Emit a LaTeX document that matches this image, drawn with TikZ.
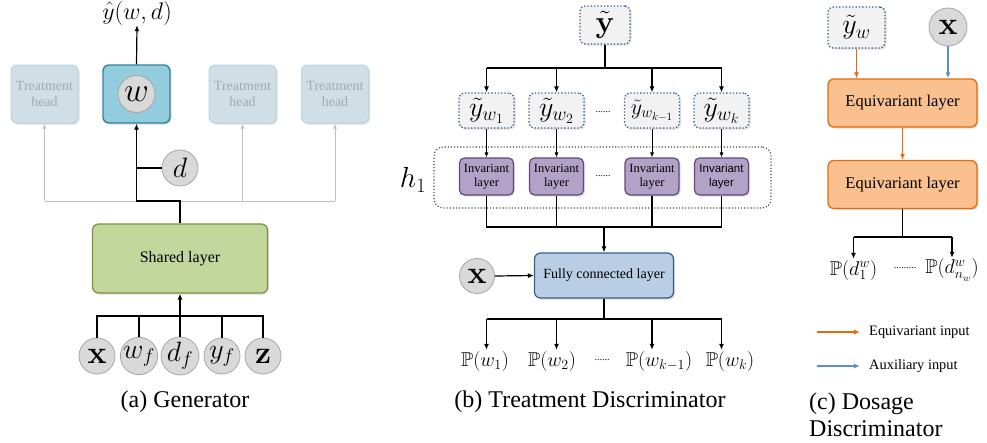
\RequirePackage{fix-cm}
\documentclass[tikz,border=0pt]{standalone}
\usepackage{amsmath,amssymb}
\usepackage[no-math]{fontspec}
\setmainfont{Liberation Serif}
\newfontfamily\sansf{Liberation Sans}
\usetikzlibrary{arrows.meta,shadows}
\definecolor{headfill}{HTML}{CFDFE5}
\definecolor{headdraw}{HTML}{B9D5DF}
\definecolor{headtext}{HTML}{A3ABAE}
\definecolor{wfill}{HTML}{93CDDD}
\definecolor{wdraw}{HTML}{31849B}
\definecolor{cfill}{HTML}{D9D9D9}
\definecolor{cdraw}{HTML}{A6A6A6}
\definecolor{shfill}{HTML}{C3D69B}
\definecolor{shdraw}{HTML}{77933C}
\definecolor{yfill}{HTML}{F2F2F2}
\definecolor{ydraw}{HTML}{2E5C8A}
\definecolor{invfill}{HTML}{B3A2C7}
\definecolor{invdraw}{HTML}{604A7B}
\definecolor{fcfill}{HTML}{B9CDE5}
\definecolor{fcdraw}{HTML}{385D8A}
\definecolor{eqfill}{HTML}{FAC090}
\definecolor{eqdraw}{HTML}{E46C0A}
\definecolor{auxblue}{HTML}{5B8FCB}
\definecolor{garrow}{HTML}{BFBFBF}
\tikzset{
  base/.style={rounded corners=6pt, align=center, inner sep=0pt,
    drop shadow={opacity=0.25, shadow xshift=1.5pt, shadow yshift=-1.5pt}},
  thead/.style={base, draw=headdraw, fill=headfill, text=headtext, line width=1pt,
    minimum width=67pt, minimum height=58pt, font=\fontsize{14}{16}\selectfont},
  wbox/.style={base, draw=wdraw, fill=wfill, line width=1.4pt, minimum width=67pt, minimum height=58pt},
  sharedbox/.style={base, draw=shdraw, fill=shfill, line width=1.2pt,
    minimum width=175pt, minimum height=69pt, font=\fontsize{16}{18}\selectfont},
  circ/.style={circle, draw=cdraw, fill=cfill, line width=0.8pt, inner sep=0pt,
    minimum size=36pt, font=\fontsize{28}{30}\selectfont},
  ybox/.style={base, rounded corners=5pt, draw=ydraw, fill=yfill, dotted, line width=1.3pt},
  invbox/.style={base, rounded corners=5pt, draw=invdraw, fill=invfill, line width=1.2pt,
    minimum width=54pt, minimum height=37pt, font=\fontsize{12.5}{14}\selectfont},
  fcbox/.style={base, draw=fcdraw, fill=fcfill, line width=1.2pt,
    minimum width=139pt, minimum height=45pt, font=\fontsize{14}{16}\selectfont},
  eqbox/.style={base, draw=eqdraw, fill=eqfill, line width=1.3pt,
    minimum width=149pt, minimum height=48pt, font=\fontsize{16.5}{18}\selectfont},
  hgroup/.style={draw=black!75, dotted, line width=1.1pt, rounded corners=9pt,
    minimum width=337pt, minimum height=61pt},
  arr/.style={-{Latex[length=6pt,width=5pt]}, line width=1.2pt},
  thinarr/.style={-{Latex[length=5pt,width=4pt]}, line width=0.7pt},
  thickarr/.style={-{Latex[length=6pt,width=5pt]}, line width=1.6pt},
  garr/.style={-{Latex[length=5pt,width=4pt]}, draw=garrow, line width=1pt},
  oarr/.style={-{Latex[length=6pt,width=5pt]}, draw=eqdraw, line width=1.2pt},
  barr/.style={-{Latex[length=6pt,width=5pt]}, draw=auxblue, line width=1.2pt},
  plab/.style={inner sep=1pt, font=\fontsize{20}{22}\selectfont},
  dots/.style={font=\fontsize{10}{10}\selectfont},
  caption/.style={font=\fontsize{24}{27}\selectfont},
  legtext/.style={anchor=west, font=\fontsize{14.4}{16}\selectfont, inner sep=0pt}
}
\begin{document}
\begin{tikzpicture}[x=1pt,y=-1pt]
\useasboundingbox (0,0) rectangle (987,442);

% ---------- (a) Generator ----------
\node[thead] (ha) at (44.5,94) {Treatment\\head};
\node[wbox]  (hw) at (136.5,94) {};
\node[circ, minimum size=37pt, font=\fontsize{34}{36}\selectfont] (wc) at (hw.center) {$w$};
\node[thead] (hc) at (242.5,94) {Treatment\\head};
\node[thead] (hd) at (335,94) {Treatment\\head};
\node[font=\fontsize{24}{26}\selectfont, inner sep=0pt] (yhat) at (137,13) {$\hat{y}(w,d)$};
\draw[arr] (hw.north) -- (yhat.south);

\node[sharedbox] (sh) at (180,258.5) {Shared layer};
\coordinate (ja) at (180,201);
\draw[garrow, line width=1pt] (ha.south |- ja) -- (hd.south |- ja);
\draw[garr] (ha.south |- ja) -- (ha.south);
\draw[garr] (hc.south |- ja) -- (hc.south);
\draw[garr] (hd.south |- ja) -- (hd.south);
\node[circ] (dc) at (180,168) {$d$};
\draw[thickarr] (sh.north) -- (ja) -- (hw.south |- ja) -- (hw.south);
\draw[line width=1.6pt] (hw.south |- dc) -- (dc.west);

\node[circ, font=\fontsize{32}{34}\selectfont] (ix) at (97,356) {$\mathbf{x}$};
\node[circ] (iw) at (139,356) {$w_f$};
\node[circ] (id) at (180,356) {$d_f$};
\node[circ] (iy) at (222,356) {$y_f$};
\node[circ, font=\fontsize{32}{34}\selectfont] (iz) at (263,356) {$\mathbf{z}$};
\coordinate (jin) at (180,316);
\draw[line width=1.2pt] (ix.north) -- (ix.north |- jin) -- (iz.north |- jin) -- (iz.north);
\draw[line width=1.2pt] (iw.north) -- (iw.north |- jin);
\draw[line width=1.2pt] (iy.north) -- (iy.north |- jin);
\draw[arr] (id.north) -- (sh.south);
\node[caption] (capa) at (185,402) {(a) Generator};

% ---------- (b) Treatment Discriminator ----------
\node[ybox, minimum width=50pt, minimum height=38pt, font=\fontsize{31}{33}\selectfont] (yt) at (605,25) {$\tilde{\mathbf{y}}$};
\coordinate (jb1) at (605,68);
\coordinate (c1) at (486.5,0);
\coordinate (c2) at (556.5,0);
\coordinate (c3) at (652,0);
\coordinate (c4) at (721.5,0);
\tikzset{ywb/.style={ybox, minimum width=55pt, minimum height=35pt, font=\fontsize{28}{30}\selectfont}}
\node[ywb] (y1) at (486.5,110.5) {$\tilde{y}_{w_1}$};
\node[ywb] (y2) at (556.5,110.5) {$\tilde{y}_{w_2}$};
\node[ywb, font=\fontsize{22}{24}\selectfont] (y3) at (652,110.5) {$\tilde{y}_{w_{k-1}}$};
\node[ywb] (y4) at (721.5,110.5) {$\tilde{y}_{w_k}$};
\node[dots] (ydots) at (603,112) {......};
\draw[line width=1.2pt] (yt.south) -- (jb1);
\draw[line width=1.2pt] (c1 |- jb1) -- (c4 |- jb1);
\draw[arr] (c1 |- jb1) -- (y1.north);
\draw[arr] (c2 |- jb1) -- (y2.north);
\draw[arr] (c3 |- jb1) -- (y3.north);
\draw[arr] (c4 |- jb1) -- (y4.north);

\node[hgroup] (hg) at (602.5,177.5) {};
\node[font=\fontsize{29}{31}\selectfont] (hl) at (413,180) {$h_1$};
\node[invbox] (v1) at (486.5,176.5) {Invariant\\layer};
\node[invbox] (v2) at (556.5,176.5) {Invariant\\layer};
\node[invbox] (v3) at (652,176.5) {Invariant\\layer};
\node[invbox, font=\sansf\fontsize{11.5}{14}\selectfont] (v4) at (721.5,176.5) {Invariant\\layer};
\node[dots] (vdots) at (603,176) {......};
\draw[thinarr] (y1.south) -- (v1.north);
\draw[thinarr] (y2.south) -- (v2.north);
\draw[thinarr] (y3.south) -- (v3.north);
\draw[thinarr] (y4.south) -- (v4.north);

\node[fcbox] (fc) at (604,275.5) {Fully connected layer};
\coordinate (jb2) at (604,227);
\draw[line width=1.2pt] (v1.south) -- (v1.south |- jb2) -- (v4.south |- jb2) -- (v4.south);
\draw[line width=1.2pt] (v2.south) -- (v2.south |- jb2);
\draw[line width=1.2pt] (v3.south) -- (v3.south |- jb2);
\draw[arr] (jb2) -- (fc.north);
\node[circ, minimum size=35pt, font=\fontsize{32}{34}\selectfont] (xb) at (477,276) {$\mathbf{x}$};
\draw[arr] (xb.east) -- (fc.west);

\coordinate (jb3) at (604,319);
\node[plab] (p1) at (485,361) {$\mathbb{P}(w_1)$};
\node[plab] (p2) at (552,361) {$\mathbb{P}(w_2)$};
\node[plab] (p3) at (659,361) {$\mathbb{P}(w_{k-1})$};
\node[plab] (p4) at (730,361) {$\mathbb{P}(w_k)$};
\node[dots] (pdots) at (602,360) {......};
\draw[line width=1.2pt] (fc.south) -- (jb3);
\draw[line width=1.2pt] (c1 |- jb3) -- (c4 |- jb3);
\draw[arr] (c1 |- jb3) -- (c1 |- p1.north);
\draw[arr] (c2 |- jb3) -- (c2 |- p2.north);
\draw[arr] (c3 |- jb3) -- (c3 |- p3.north);
\draw[arr] (c4 |- jb3) -- (c4 |- p4.north);
\node[caption] (capb) at (590,402) {(b) Treatment Discriminator};

% ---------- (c) Dosage Discriminator ----------
\node[ybox, minimum width=57pt, minimum height=41pt, font=\fontsize{28}{30}\selectfont] (yw) at (856.5,27.5) {$\tilde{y}_w$};
\node[circ, minimum size=38pt, font=\fontsize{32}{34}\selectfont] (xc) at (948,27) {$\mathbf{x}$};
\node[eqbox] (e1) at (902.5,103) {Equivariant layer};
\node[eqbox] (e2) at (902.5,184.5) {Equivariant layer};
\draw[oarr] (yw.south) -- (yw.south |- e1.north);
\draw[barr] (xc.south) -- (xc.south |- e1.north);
\draw[oarr] (e1.south) -- (e2.north);
\coordinate (jc) at (902.5,237);
\node[plab] (q1) at (853.5,270) {$\mathbb{P}(d_1^w)$};
\node[plab] (q2) at (952,270) {$\mathbb{P}(d_{n_w}^w)$};
\node[dots] (qdots) at (905,268) {.........};
\draw[line width=1.2pt] (e2.south) -- (jc);
\draw[line width=1.2pt] (q1.north |- jc) -- (q2.north |- jc);
\draw[arr] (q1.north |- jc) -- (q1.north);
\draw[arr] (q2.north |- jc) -- (q2.north);

\node[legtext] (l1) at (869,332) {Equivariant input};
\node[legtext] (l2) at (869,366) {Auxiliary input};
\coordinate (l1s) at (817,332);
\coordinate (l2s) at (817,366);
\draw[oarr] (l1s) -- ([xshift=-9pt]l1.west);
\draw[barr] (l2s) -- ([xshift=-9pt]l2.west);
\node[caption, anchor=west, align=left, inner sep=0pt] (capc) at (809,415) {(c) Dosage\\Discriminator};
\end{tikzpicture}
\end{document}
